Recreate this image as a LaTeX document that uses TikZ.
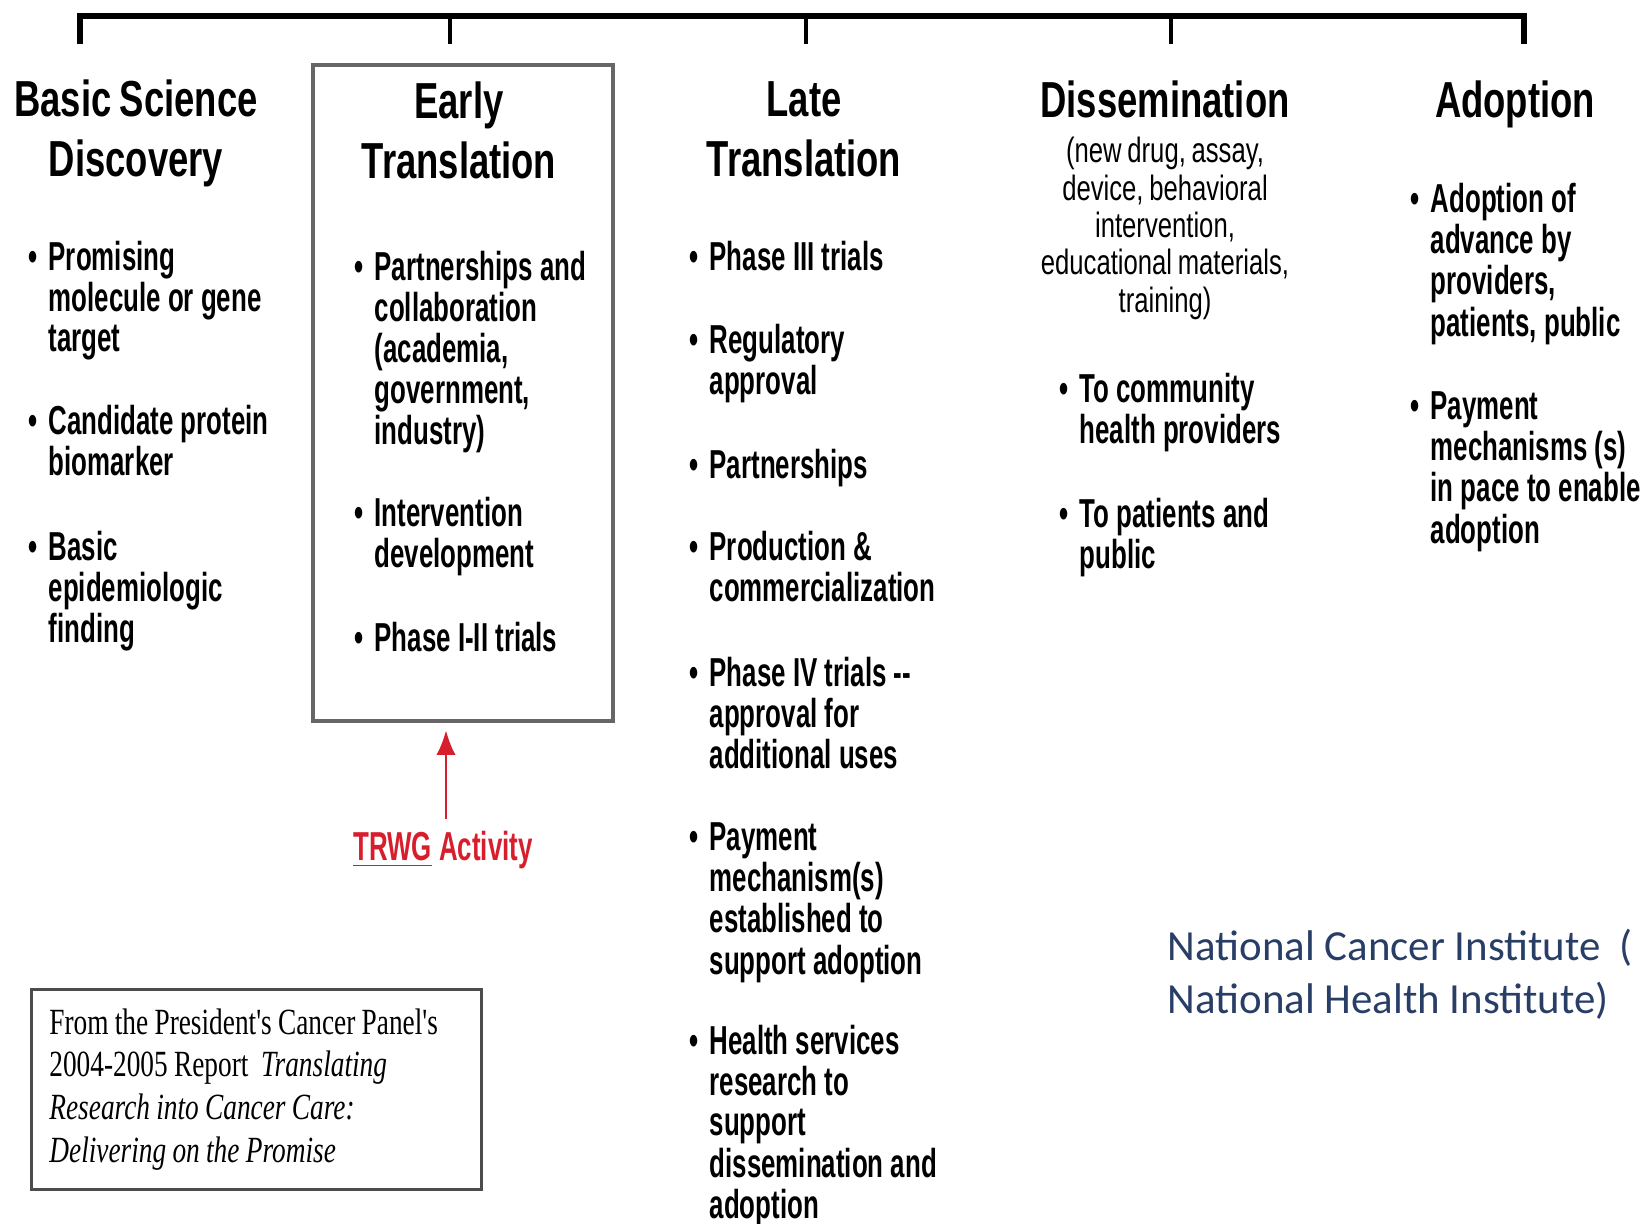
\documentclass[tikz,border=0pt]{standalone}
\usepackage{fontspec}
\usetikzlibrary{arrows.meta,positioning}
\newfontfamily\headfont[FakeStretch=0.72,WordSpace=0.8]{Liberation Sans}
\newfontfamily\bodyfont[FakeStretch=0.64]{Liberation Sans}
\newfontfamily\notefont[FakeStretch=0.73,WordSpace=0.8]{Liberation Sans}
\newfontfamily\citefont[FakeStretch=0.74]{Liberation Serif}
\newfontfamily\ncifont{Carlito}
\definecolor{trwgred}{RGB}{215,30,45}
\definecolor{nciblue}{RGB}{40,62,102}
\newcommand{\bitem}[1]{\makebox[0.2cm][l]{\textbullet}\begin{tabular}[t]{@{}l@{}}#1\end{tabular}}
\newcommand{\citespace}{\spaceskip=0.17em plus 0.05em\relax}
\tikzset{
    bar/.style={line width=1.8pt},
    tick/.style={line width=1.3pt},
    phase/.style={font=\headfont\bfseries\fontsize{14.4}{17}\selectfont,align=center,inner sep=0pt,anchor=base},
    note/.style={font=\notefont\fontsize{10}{10.6}\selectfont,align=center,inner sep=0pt,anchor=base},
    bul/.style={font=\bodyfont\bfseries\fontsize{11.5}{11.5}\selectfont,inner sep=0pt,anchor=base west},
    ebox/.style={draw=black!60,line width=1.1pt,anchor=north west,minimum width=3cm,minimum height=6.56cm},
    cite/.style={draw=black!70,line width=0.8pt,anchor=north west,text width=4.14cm,inner xsep=0.18cm,
        minimum height=2cm,align=left,font=\citefont\fontsize{10.5}{12.2}\selectfont},
    trwg/.style={text=trwgred,font=\bodyfont\bfseries\fontsize{11.5}{11.5}\selectfont,inner sep=0pt,anchor=base},
    trwgarrow/.style={draw=trwgred,line width=0.7pt,-{Latex[length=7pt,width=5.5pt]},shorten <=3pt,shorten >=2pt},
    nci/.style={text=nciblue,font=\ncifont\fontsize{12.2}{14.8}\selectfont,align=left,inner sep=0pt,anchor=base west}
}

\begin{document}
\begin{tikzpicture}[x=0.01cm,y=-0.01cm]
    \useasboundingbox (0,0) rectangle (1641,1223);
    % the time line, one tick for each phase
    \coordinate (T1) at (80,16);
    \coordinate (T2) at (450,16);
    \coordinate (T3) at (806,16);
    \coordinate (T4) at (1171,16);
    \coordinate (T5) at (1524,16);
    \draw[bar] ([yshift=-0.28cm]T1) -- (T1) -- (T5) -- ([yshift=-0.28cm]T5);
    \foreach \t in {T2,T3,T4} \draw[tick] (\t) -- ([yshift=-0.28cm]\t);
    % the box round the early phase
    \node[ebox] (early) at (311,63) {};
    % phase titles (placed by their last line)
    \node[phase] (basic) at (136,176) {Basic Science\\Discovery};
    \node[phase] (earlyt) at (459,178) {Early\\Translation};
    \node[phase] (late) at (804,176) {Late\\Translation};
    \node[phase] (dissem) at (1165,117) {Dissemination};
    \node[phase] (adopt) at (1515,117) {Adoption};
    \node[note] (dissemnote) at (1165,312) {(new drug, assay,\\device, behavioral\\intervention,\\educational materials,\\training)};
    % basic science discovery
    \node[bul] (bs1) at (28,270) {\bitem{Promising\\molecule or gene\\target}};
    \node[bul] (bs2) at (28,434) {\bitem{Candidate protein\\biomarker}};
    \node[bul] (bs3) at (28,560) {\bitem{Basic\\epidemiologic\\finding}};
    % early translation
    \node[bul] (et1) at (354,280) {\bitem{Partnerships and\\collaboration\\(academia,\\government,\\industry)}};
    \node[bul] (et2) at (354,526) {\bitem{Intervention\\development}};
    \node[bul] (et3) at (354,651) {\bitem{Phase I-II trials}};
    % late translation
    \node[bul] (lt1) at (689,270) {\bitem{Phase III trials}};
    \node[bul] (lt2) at (689,353) {\bitem{Regulatory\\approval}};
    \node[bul] (lt3) at (689,478) {\bitem{Partnerships}};
    \node[bul] (lt4) at (689,560) {\bitem{Production \&\\commercialization}};
    \node[bul] (lt5) at (689,686) {\bitem{Phase IV trials --\\approval for\\additional uses}};
    \node[bul] (lt6) at (689,850) {\bitem{Payment\\mechanism(s)\\established to\\support adoption}};
    \node[bul] (lt7) at (689,1054) {\bitem{Health services\\research to\\support\\dissemination and\\adoption}};
    % dissemination
    \node[bul] (ds1) at (1059,402) {\bitem{To community\\health providers}};
    \node[bul] (ds2) at (1059,527) {\bitem{To patients and\\public}};
    % adoption
    \node[bul] (ad1) at (1410,212) {\bitem{Adoption of\\advance by\\providers,\\patients, public}};
    \node[bul] (ad2) at (1410,419) {\bitem{Payment\\mechanisms (s)\\in pace to enable\\adoption}};
    % TRWG activity points at the early phase
    \node[trwg] (act) at (443,860) {\underline{TRWG} Activity};
    \draw[trwgarrow] (act.north -| 446,0) -- (early.south -| 446,0);
    % source of the figure
    \node[cite] (source) at (30,988) {\citespace From the President's Cancer Panel's\\2004-2005 Report~ \textit{Translating}\\\textit{Research into Cancer Care:}\\\textit{Delivering on the Promise}};
    \node[nci] (nci) at (1167,1013) {National Cancer Institute~~(\\National Health Institute)};
\end{tikzpicture}
\end{document}
